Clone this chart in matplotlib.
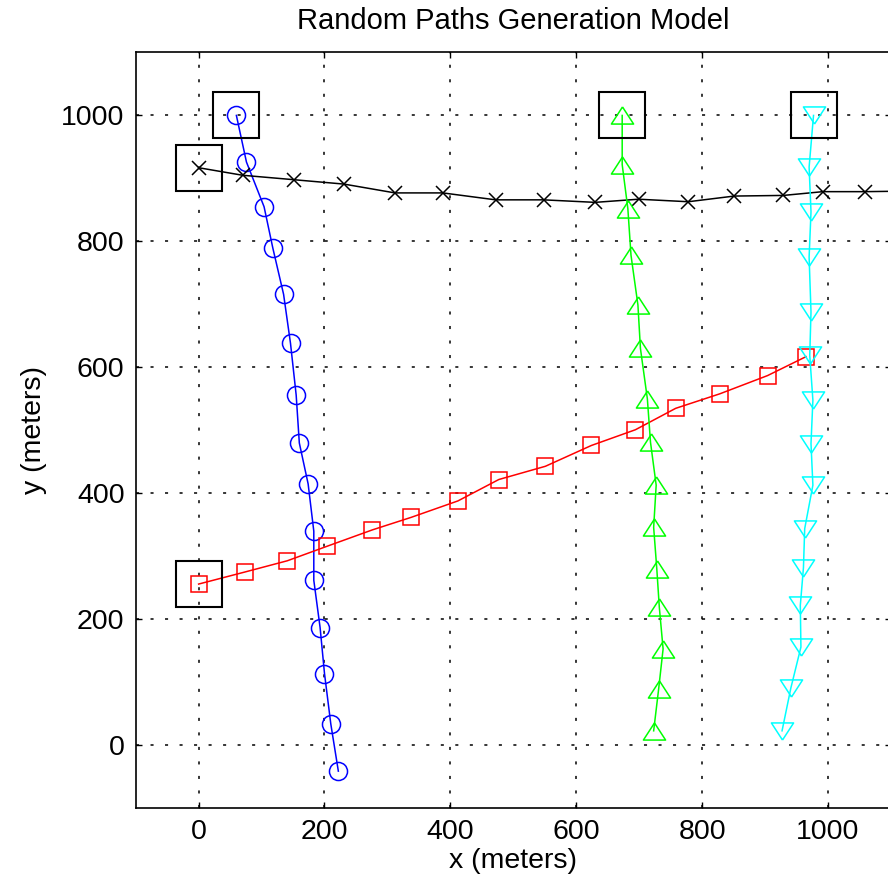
import numpy as np
import matplotlib
matplotlib.use('Agg')
from matplotlib import pyplot as plt

plt.rcParams['font.family'] = ['Liberation Sans', 'DejaVu Sans']

## Path data (meters) ##
blue_x = [60, 76, 104, 118, 135, 146, 155, 160, 174, 183, 183, 193, 200, 210, 222]
blue_y = [1000, 926, 855, 789, 716, 638, 556, 480, 415, 340, 262, 187, 114, 34, -41]

black_x = [0, 70, 151, 231, 312, 388, 472, 548, 630, 699, 778, 851, 929, 992, 1059, 1135]
black_y = [917, 905, 898, 891, 877, 877, 866, 866, 862, 867, 863, 872, 873, 879, 879, 880]

red_x = [0, 73, 141, 204, 276, 338, 412, 477, 551, 624, 694, 758, 828, 904, 965]
red_y = [256, 275, 293, 316, 342, 362, 388, 422, 443, 476, 501, 535, 558, 587, 617]

green_x = [673, 673, 682, 687, 698, 702, 713, 718, 727, 723, 728, 732, 738, 731, 723]
green_y = [1000, 922, 852, 778, 699, 630, 550, 481, 413, 346, 280, 219, 153, 90, 23]

cyan_x = [977, 970, 973, 970, 973, 971, 976, 973, 976, 963, 961, 956, 957, 941, 927]
cyan_y = [1000, 918, 847, 775, 688, 619, 548, 479, 413, 344, 282, 222, 156, 91, 23]

# start points get the big square
paths = [(blue_x, blue_y), (black_x, black_y), (red_x, red_y), (green_x, green_y), (cyan_x, cyan_y)]

# wide MATLAB-style triangles (closed outlines)
tri_up = [(0, 0.77), (-1, -0.77), (1, -0.77), (0, 0.77)]
tri_dn = [(0, -0.77), (-1, 0.77), (1, 0.77), (0, -0.77)]

fig = plt.figure(figsize=(8.88, 8.83), dpi=100)
ax = fig.add_axes([0.1528, 0.0846, 0.8505, 0.856])

ax.plot(blue_x, blue_y, color='#0000ff', lw=1.1, marker='o', ms=13, mfc='none', mew=1.1)
ax.plot(black_x, black_y, color='black', lw=1.1, marker='x', ms=9.5, mew=1.1)
ax.plot(red_x, red_y, color='#ff0000', lw=1.1, marker='s', ms=11, mfc='none', mew=1.1)
ax.plot(green_x, green_y, color='#00ff00', lw=1.1, marker=tri_up, ms=16, mfc='none', mew=1.1)
ax.plot(cyan_x, cyan_y, color='#00ffff', lw=1.1, marker=tri_dn, ms=16, mfc='none', mew=1.1)

for px, py in paths:
    ax.plot(px[0], py[0], linestyle='none', marker='s', ms=33, mfc='none', mec='black', mew=1.5)

ax.set_xlim(-100, 1100)
ax.set_ylim(-100, 1100)
ax.set_xticks([0, 200, 400, 600, 800, 1000])
ax.set_yticks([0, 200, 400, 600, 800, 1000])
ax.grid(True, color='black', linestyle=(0, (2, 7.5)), lw=1.1)
ax.tick_params(direction='in', length=4, width=1, top=True, right=True, labelsize=20.5, pad=8)
for s in ax.spines.values():
    s.set_linewidth(1.2)

ax.set_title('Random Paths Generation Model', fontsize=21, pad=17)
ax.set_xlabel('x (meters)', fontsize=20.5, labelpad=2)
ax.set_ylabel('y (meters)', fontsize=20.5, labelpad=10)

plt.savefig('out.png', dpi=100)
